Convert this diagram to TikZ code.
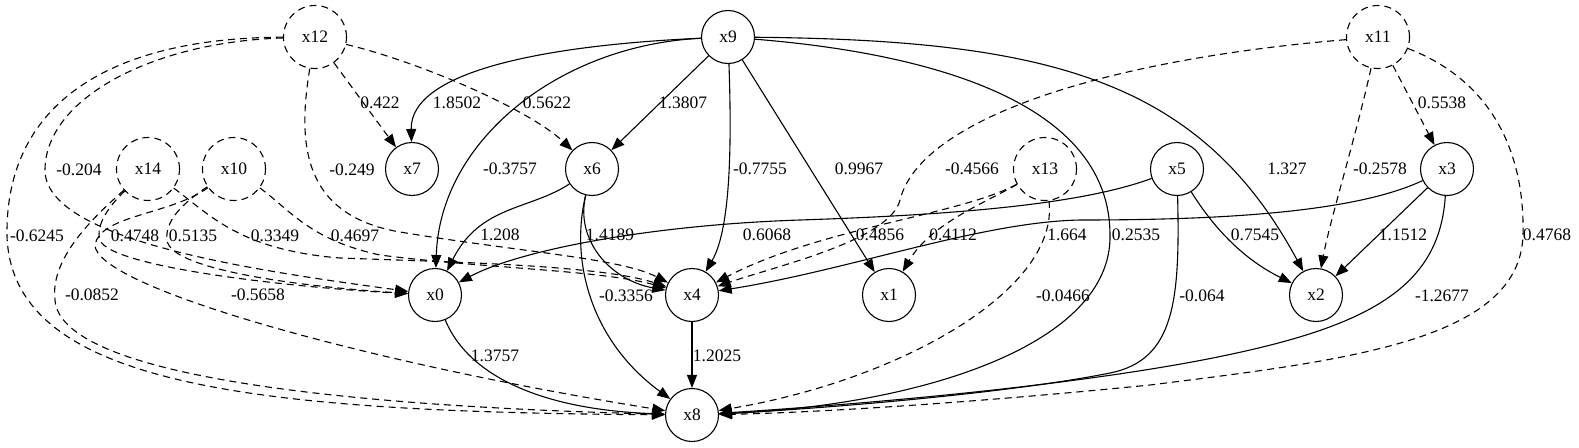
\documentclass[tikz,border=0pt]{standalone}
\usepackage{fontspec}
\setmainfont{Liberation Serif}
\usetikzlibrary{arrows.meta}
\tikzset{
  var/.style={circle, draw, line width=1.1pt, minimum size=53pt, inner sep=0pt, font=\fontsize{17.5}{21}\selectfont},
  lat/.style={var, dash pattern=on 7pt off 5pt, minimum size=63pt},
  edge/.style={-{Triangle[length=13pt,width=10pt]}, line width=1.1pt},
  dedge/.style={edge, dash pattern=on 7pt off 5pt},
  lbl/.style={inner sep=0pt, font=\fontsize{17.5}{21}\selectfont}
}
\begin{document}
\begin{tikzpicture}[x=1pt,y=-1pt]
\useasboundingbox (0,0) rectangle (1579,447);
% nodes
\node[lat] (x12) at (315,37) {x12};
\node[var] (x9) at (728,37) {x9};
\node[lat] (x11) at (1378,37) {x11};
\node[lat] (x14) at (148,169) {x14};
\node[lat] (x10) at (234,169) {x10};
\node[var] (x7) at (412,169) {x7};
\node[var] (x6) at (592,169) {x6};
\node[lat] (x13) at (1045,169) {x13};
\node[var] (x5) at (1177,169) {x5};
\node[var] (x3) at (1447,169) {x3};
\node[var] (x0) at (435,295) {x0};
\node[var] (x4) at (692,295) {x4};
\node[var] (x1) at (889,295) {x1};
\node[var] (x2) at (1316,295) {x2};
\node[var] (x8) at (692,415) {x8};
% x12
\draw[dedge] (x12) -- (x7);
\draw[dedge] (x12) .. controls (420,62) and (530,110) .. (x6);
\draw[dedge] (x12) .. controls (298,140) and (300,215) .. (400,232) .. controls (520,252) and (620,258) .. (x4);
\draw[dedge] (x12) .. controls (150,42) and (45,100) .. (45,170) .. controls (45,240) and (250,270) .. (x0);
\draw[dedge] (x12) .. controls (100,38) and (5,110) .. (7,236) .. controls (12,385) and (250,412) .. (x8);
% x9
\draw[edge] (x9) .. controls (550,45) and (410,70) .. (x7);
\draw[edge] (x9) -- (x6);
\draw[edge] (x9) .. controls (560,45) and (440,140) .. (x0);
\draw[edge] (x9) .. controls (732,150) and (730,230) .. (x4);
\draw[edge] (x9) -- (x1);
\draw[edge] (x9) .. controls (950,55) and (1110,110) .. (1110,235) .. controls (1112,345) and (920,405) .. (x8);
\draw[edge] (x9) .. controls (1050,40) and (1200,80) .. (x2);
% x14
\draw[dedge] (x14) .. controls (110,205) and (95,225) .. (100,240) .. controls (110,268) and (300,288) .. (x0);
\draw[dedge] (x14) .. controls (210,215) and (240,250) .. (340,258) .. controls (450,262) and (600,265) .. (x4);
\draw[dedge] (x14) .. controls (90,220) and (50,260) .. (55,300) .. controls (60,370) and (300,405) .. (x8);
% x10
\draw[dedge] (x10) .. controls (180,205) and (165,222) .. (167,240) .. controls (170,272) and (320,288) .. (x0);
\draw[dedge] (x10) .. controls (290,210) and (310,240) .. (380,255) .. controls (480,268) and (600,270) .. (x4);
\draw[dedge] (x10) .. controls (170,215) and (100,215) .. (95,245) .. controls (95,285) and (350,360) .. (x8);
% x6
\draw[edge] (x6) .. controls (530,210) and (480,205) .. (x0);
\draw[edge] (x6) .. controls (575,240) and (610,280) .. (x4);
\draw[edge] (x6) .. controls (570,260) and (590,340) .. (x8);
% x13
\draw[dedge] (x13) .. controls (960,215) and (820,228) .. (x4);
\draw[dedge] (x13) .. controls (980,205) and (930,225) .. (x1);
\draw[dedge] (x13) .. controls (1060,290) and (900,380) .. (x8);
% x11
\draw[dedge] (x11) .. controls (1100,60) and (920,120) .. (900,200) .. controls (890,240) and (780,265) .. (x4);
\draw[dedge] (x11) -- (x3);
\draw[dedge] (x11) .. controls (1355,140) and (1330,220) .. (x2);
\draw[dedge] (x11) .. controls (1490,80) and (1525,150) .. (1523,235) .. controls (1520,340) and (1350,360) .. (1150,385) .. controls (950,405) and (800,413) .. (x8);
% x5
\draw[edge] (x5) .. controls (1080,205) and (950,215) .. (800,220) .. controls (650,225) and (520,250) .. (x0);
\draw[edge] (x5) .. controls (1215,230) and (1245,260) .. (x2);
\draw[edge] (x5) .. controls (1180,300) and (1175,360) .. (1110,373) .. controls (1000,395) and (800,410) .. (x8);
% x3
\draw[edge] (x3) .. controls (1350,215) and (1200,220) .. (1080,220) .. controls (980,222) and (850,270) .. (x4);
\draw[edge] (x3) -- (x2);
\draw[edge] (x3) .. controls (1440,280) and (1380,320) .. (1250,350) .. controls (1100,385) and (850,405) .. (x8);
% x0, x4
\draw[edge] (x0) .. controls (470,380) and (550,410) .. (x8);
\draw[edge] (x4) -- (x8);
% labels
\node[lbl] (l1) at (380,103) {0.422};
\node[lbl] (l2) at (547,103) {0.5622};
\node[lbl] (l3) at (457,103) {1.8502};
\node[lbl] (l4) at (683,103) {1.3807};
\node[lbl] (l5) at (1442,103) {0.5538};
\node[lbl] (l6) at (79,170) {-0.204};
\node[lbl] (l7) at (352,170) {-0.249};
\node[lbl] (l8) at (510,169) {-0.3757};
\node[lbl] (l9) at (760,169) {-0.7755};
\node[lbl] (l10) at (859,169) {0.9967};
\node[lbl] (l11) at (972,169) {-0.4566};
\node[lbl] (l12) at (1287,169) {1.327};
\node[lbl] (l13) at (1380,169) {-0.2578};
\node[lbl] (l14) at (37,236) {-0.6245};
\node[lbl] (l15) at (135,236) {0.4748};
\node[lbl] (l16) at (193,236) {0.5135};
\node[lbl] (l17) at (275,236) {0.3349};
\node[lbl] (l18) at (355,236) {0.4697};
\node[lbl] (l19) at (500,235) {1.208};
\node[lbl] (l20) at (610,235) {1.4189};
\node[lbl] (l21) at (767,235) {0.6068};
\node[lbl] (l22) at (880,235) {0.4856};
\node[lbl] (l23) at (953,235) {0.4112};
\node[lbl] (l24) at (1067,235) {1.664};
\node[lbl] (l25) at (1136,235) {0.2535};
\node[lbl] (l26) at (1255,235) {0.7545};
\node[lbl] (l27) at (1403,235) {1.1512};
\node[lbl] (l28) at (1547,235) {0.4768};
\node[lbl] (l29) at (92,295) {-0.0852};
\node[lbl] (l30) at (258,295) {-0.5658};
\node[lbl] (l31) at (626,296) {-0.3356};
\node[lbl] (l32) at (1063,296) {-0.0466};
\node[lbl] (l33) at (1202,296) {-0.064};
\node[lbl] (l34) at (1442,296) {-1.2677};
\node[lbl] (l35) at (495,356) {1.3757};
\node[lbl] (l36) at (717,356) {1.2025};
\end{tikzpicture}
\end{document}
